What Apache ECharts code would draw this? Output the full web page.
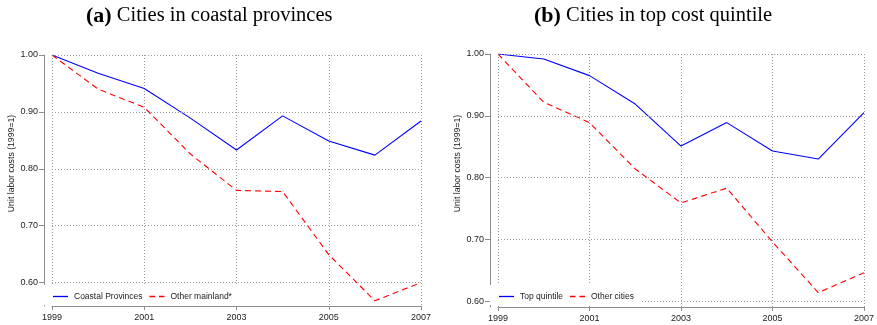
<!DOCTYPE html>
<html>
<head>
<meta charset="utf-8">
<script src="https://cdn.jsdelivr.net/npm/echarts@6/dist/echarts.min.js"></script>
<style>
html,body{margin:0;padding:0;background:#fff;}
#chart{width:877px;height:325px;}
</style>
</head>
<body>
<div id="chart"></div>
<script>
// Data
var years = ['1999','2000','2001','2002','2003','2004','2005','2006','2007'];
var coastalProvinces = [1.000, 0.968, 0.941, 0.889, 0.833, 0.893, 0.849, 0.824, 0.884];
var otherMainland    = [1.000, 0.940, 0.908, 0.826, 0.762, 0.760, 0.649, 0.568, 0.600];
var topQuintile      = [1.000, 0.992, 0.965, 0.919, 0.851, 0.889, 0.843, 0.830, 0.905];
var otherCities      = [1.000, 0.922, 0.889, 0.814, 0.759, 0.783, 0.696, 0.614, 0.646];
var yTicks = [0.6, 0.7, 0.8, 0.9, 1.0];
var titleA = 'Cities in coastal provinces';
var titleB = 'Cities in top cost quintile';
var yName = 'Unit labor costs (1999=1)';

var gridColor = '#9a9a9a';
var axisColor = '#8c8c8c';
var sans = 'Liberation Sans, Arial, sans-serif';
var solidIcon = 'path://M0,0h15v1.3h-15z';
var dashIcon = 'path://M0,0h5.5v1.3h-5.5zM9.5,0h5.5v1.3h-5.5z';

function xAxisDef(gi) {
  return {
    type: 'category', gridIndex: gi, data: years, boundaryGap: false,
    axisLine: {show: true, lineStyle: {color: axisColor, width: 1}},
    axisTick: {show: true, interval: 1, length: 4, lineStyle: {color: axisColor}},
    axisLabel: {interval: 1, margin: 7, fontSize: 9, fontFamily: sans, color: '#222'},
    splitLine: {show: true, interval: 1, lineStyle: {color: gridColor, type: [1, 2], width: 1}}
  };
}
function yAxisDef(gi, mn) {
  return {
    type: 'value', gridIndex: gi, min: mn, max: 1.0, offset: 8,
    name: yName, nameLocation: 'middle', nameGap: 27, nameRotate: 90,
    nameTextStyle: {fontSize: 8.7, fontFamily: sans, color: '#222', padding: [0, 0, 0, 34]},
    axisLine: {show: true, onZero: false, lineStyle: {color: axisColor, width: 1}},
    axisTick: {show: true, length: 5, customValues: yTicks, lineStyle: {color: axisColor}},
    axisLabel: {margin: 6, fontSize: 9, fontFamily: sans, color: '#222', customValues: yTicks,
      formatter: function (v) { return Number(v).toFixed(2); }},
    splitLine: {show: false}
  };
}
function gridLines(xi, yi) {
  return {
    type: 'line', xAxisIndex: xi, yAxisIndex: yi, data: [], silent: true, z: 1,
    markLine: {
      silent: true, symbol: ['none', 'none'], label: {show: false},
      lineStyle: {color: gridColor, type: [1, 2], width: 1},
      animation: false,
      data: yTicks.map(function (v) { return {yAxis: v}; })
    }
  };
}
function lineSeries(name, data, xi, yi, color, dashed) {
  return {
    name: name, type: 'line', xAxisIndex: xi, yAxisIndex: yi, data: data,
    showSymbol: false, symbol: 'none', z: 3,
    lineStyle: {color: color, width: 1.1, type: dashed ? [6, 4] : 'solid'},
    itemStyle: {color: color}
  };
}
var rich = {
  b: {fontFamily: 'Liberation Serif, serif', fontWeight: 'bold', fontSize: 22, color: '#000'},
  n: {fontFamily: 'Liberation Serif, serif', fontWeight: 'normal', fontSize: 20.5, color: '#000'}
};
var legendCommon = {
  orient: 'horizontal', backgroundColor: '#fff', itemWidth: 15, itemHeight: 1.3, itemGap: 7,
  padding: [7, 8, 4, 9], textStyle: {fontSize: 8.5, fontFamily: sans, color: '#222', padding: [0, 0, 0, 1]},
  itemStyle: {borderWidth: 0}, lineStyle: {width: 0}, z: 10
};

var chart = echarts.init(document.getElementById('chart'), null, {renderer: 'canvas'});
chart.setOption({
  animation: false,
  backgroundColor: '#fff',
  title: [
    {text: '{b|(a)}{n| ' + titleA + '}', left: 86, top: 5, padding: 0, textStyle: {fontWeight: 'normal', rich: rich}},
    {text: '{b|(b)}{n| ' + titleB + '}', left: 534, top: 5, padding: 0, textStyle: {fontWeight: 'normal', rich: rich}}
  ],
  grid: [
    {left: 52, right: 456, top: 55, bottom: 19, containLabel: false},
    {left: 498, right: 9, top: 54, bottom: 18, containLabel: false}
  ],
  xAxis: [xAxisDef(0), xAxisDef(1)],
  yAxis: [yAxisDef(0, 0.5588), yAxisDef(1, 0.5907)],
  legend: [
    Object.assign({}, legendCommon, {left: 44, top: 285, data: [
      {name: 'Coastal Provinces', icon: solidIcon}, {name: 'Other mainland*', icon: dashIcon}]}),
    Object.assign({}, legendCommon, {left: 490, top: 285, data: [
      {name: 'Top quintile', icon: solidIcon}, {name: 'Other cities', icon: dashIcon}]})
  ],
  series: [
    gridLines(0, 0),
    gridLines(1, 1),
    lineSeries('Coastal Provinces', coastalProvinces, 0, 0, '#0000ff', false),
    lineSeries('Other mainland*', otherMainland, 0, 0, '#ff0000', true),
    lineSeries('Top quintile', topQuintile, 1, 1, '#0000ff', false),
    lineSeries('Other cities', otherCities, 1, 1, '#ff0000', true)
  ]
});
</script>
</body>
</html>
